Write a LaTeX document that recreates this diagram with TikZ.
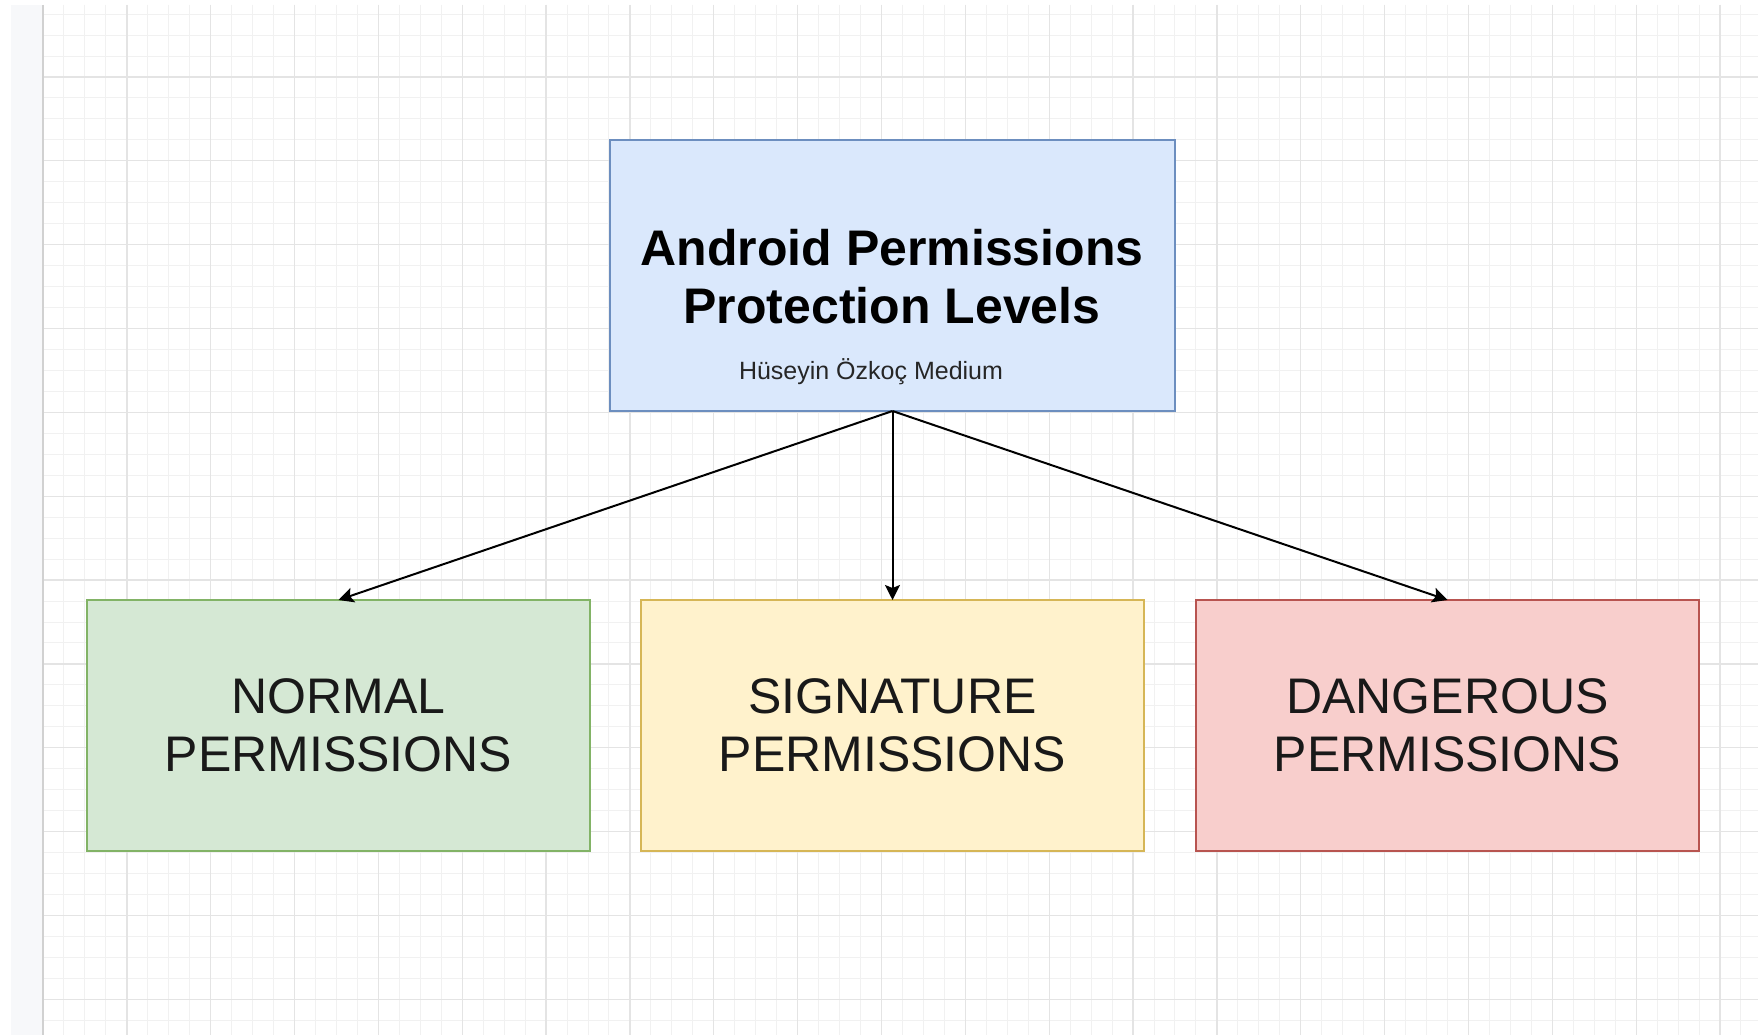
\documentclass[tikz,border=0pt]{standalone}
\usepackage{fontspec}
\setmainfont{Liberation Sans}
\usetikzlibrary{arrows.meta}
\definecolor{gridminor}{HTML}{F1F1F1}
\definecolor{gridmajor}{HTML}{E4E4E4}
\definecolor{leftstrip}{HTML}{F7F8FA}
\definecolor{blueF}{HTML}{DAE8FC}\definecolor{blueS}{HTML}{6C8EBF}
\definecolor{greenF}{HTML}{D5E8D4}\definecolor{greenS}{HTML}{82B366}
\definecolor{yellowF}{HTML}{FFF2CC}\definecolor{yellowS}{HTML}{D6B656}
\definecolor{redF}{HTML}{F8CECC}\definecolor{redS}{HTML}{B85450}
\tikzset{
  box/.style={draw, line width=1.5pt, rectangle, inner sep=0pt, outer sep=0pt},
  topbox/.style={box, fill=blueF, draw=blueS, minimum width=565pt, minimum height=271pt},
  lowbox/.style={box, minimum width=503pt, minimum height=251pt, align=center,
     font=\fontsize{50}{58}\selectfont, text=black!90},
  titletext/.style={font=\fontsize{50}{58}\selectfont\bfseries, inner sep=0pt, anchor=base},
  subtext/.style={font=\fontsize{25}{30}\selectfont, inner sep=0pt, anchor=base, text=black!85},
  conn/.style={line width=2pt, -{Stealth[length=15pt,width=15pt,inset=3pt]}}
}
\begin{document}
\begin{tikzpicture}[x=1pt,y=-1pt]
\useasboundingbox (0,0) rectangle (1758,1035);
\fill[white] (0,0) rectangle (1758,1035);
\fill[leftstrip] (11,5) rectangle (43,1035);
% grid minor
\foreach \k in {1,...,49} {
  \draw[gridminor, line width=1pt] (43,{-6.85+\k*20.9625}) -- (1758,{-6.85+\k*20.9625});
}
\foreach \k in {1,...,81} {
  \draw[gridminor, line width=1pt] ({43+\k*20.9625},5) -- ({43+\k*20.9625},1035);
}
% grid major
\foreach \k in {1,...,12} {
  \draw[gridmajor, line width=1.3pt] (43,{-6.85+\k*83.85}) -- (1758,{-6.85+\k*83.85});
}
\foreach \k in {1,...,20} {
  \draw[gridmajor, line width=1.3pt] ({43+\k*83.85},5) -- ({43+\k*83.85},1035);
}
\draw[black!18, line width=2pt] (43,5) -- (43,1035);

% boxes
\node[topbox] (top) at (892.5,275.5) {};
\node[titletext] (t1) at (892,265) {Android Permissions};
\node[titletext] (t2) at (892,323) {Protection Levels};
\node[subtext] (st) at (871,379) {Hüseyin Özkoç Medium};

\node[lowbox, fill=greenF, draw=greenS] (normal) at (338.5,725.5) {NORMAL\\PERMISSIONS};
\node[lowbox, fill=yellowF, draw=yellowS] (sig) at (892.5,725.5) {SIGNATURE\\PERMISSIONS};
\node[lowbox, fill=redF, draw=redS] (dang) at (1447.5,725.5) {DANGEROUS\\PERMISSIONS};

% connectors
\draw[conn] (top.south) -- (normal.north);
\draw[conn] (top.south) -- (sig.north);
\draw[conn] (top.south) -- (dang.north);
\end{tikzpicture}
\end{document}
